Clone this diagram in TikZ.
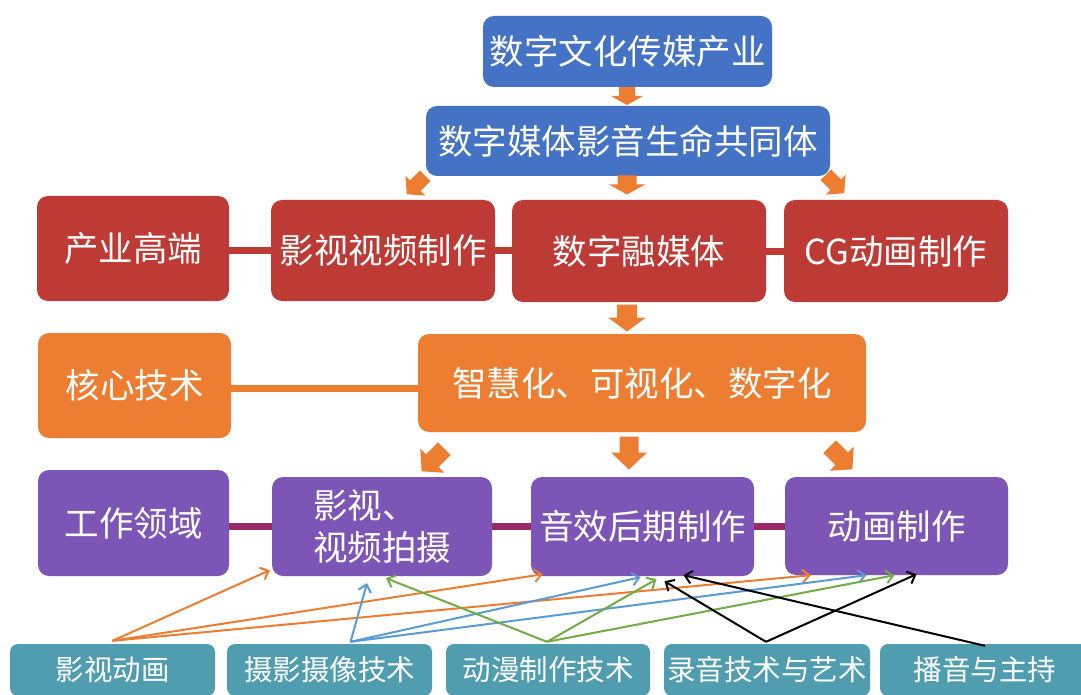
\documentclass[tikz,border=0pt]{standalone}
\usepackage{fontspec}
\setmainfont{Noto Sans CJK SC}
\usetikzlibrary{arrows.meta,calc}
\definecolor{cblue}{HTML}{4472C4}
\definecolor{cred}{HTML}{BE3A35}
\definecolor{corange}{HTML}{ED7D31}
\definecolor{cpurple}{HTML}{7D55B7}
\definecolor{cteal}{HTML}{4F9DAF}
\definecolor{cmagenta}{HTML}{9A2A66}
\definecolor{lblue}{HTML}{5B9BD5}
\definecolor{lgreen}{HTML}{70AD47}
% block arrow: #1 x, #2 y, #3 rotation, #4 total length, #5 shaft half width, #6 head half width, #7 head length
\newcommand{\myblkarrow}[7]{%
  \fill[corange, shift={(#1,#2)}, rotate=#3]
    (-#5,{-#4/2}) -- (#5,{-#4/2}) -- (#5,{#4/2-#7}) -- (#6,{#4/2-#7})
    -- (0,{#4/2}) -- (-#6,{#4/2-#7}) -- (-#5,{#4/2-#7}) -- cycle;}
\begin{document}
\begin{tikzpicture}[x=1pt,y=-1pt,
  box/.style={rounded corners=11pt, text=white, inner sep=0pt, align=center,
    font=\fontsize{34.5}{42}\selectfont},
  smallbox/.style={box, rounded corners=8pt, font=\fontsize{28.5}{32}\selectfont},
  rowline/.style={line width=7pt},
  tip/.style={line width=2pt, -{Straight Barb[length=7pt,width=13pt]}},
]
\useasboundingbox (0,0) rectangle (1081,695);
\fill[white] (0,0) rectangle (1081,695);

% top
\node[box, fill=cblue, minimum width=289pt, minimum height=71pt] (top1) at (627.5,51.5) {数字文化传媒产业};
\node[box, fill=cblue, minimum width=404pt, minimum height=70pt] (top2) at (628,141) {数字媒体影音生命共同体};

% red row
\node[box, fill=cred, minimum width=192pt, minimum height=105pt] (cat1) at (133,248.5) {产业高端};
\node[box, fill=cred, minimum width=224pt, minimum height=101pt] (r1) at (383,250.5) {影视视频制作};
\node[box, fill=cred, minimum width=254pt, minimum height=102pt] (r2) at (639,251) {数字融媒体};
\node[box, fill=cred, minimum width=224pt, minimum height=102pt] (r3) at (896,251) {CG动画制作};

% orange row
\node[box, fill=corange, minimum width=193pt, minimum height=105pt] (cat2) at (134.5,385.5) {核心技术};
\node[box, fill=corange, minimum width=448pt, minimum height=98pt] (o1) at (642,383) {智慧化、可视化、数字化};

% purple row
\node[box, fill=cpurple, minimum width=191pt, minimum height=106pt] (cat3) at (133.5,523) {工作领域};
\node[box, fill=cpurple, minimum width=220pt, minimum height=99pt, align=left] (p1) at (382,526.5) {影视、\\视频拍摄};
\node[box, fill=cpurple, minimum width=223pt, minimum height=99pt] (p2) at (642.5,526.5) {音效后期制作};
\node[box, fill=cpurple, minimum width=223pt, minimum height=98pt] (p3) at (896.5,526) {动画制作};

% teal row
\node[smallbox, fill=cteal, minimum width=205pt, minimum height=52pt] (t1) at (112.5,670) {影视动画};
\node[smallbox, fill=cteal, minimum width=205pt, minimum height=52pt] (t2) at (329.5,670) {摄影摄像技术};
\node[smallbox, fill=cteal, minimum width=204pt, minimum height=52pt] (t3) at (548,670) {动漫制作技术};
\node[smallbox, fill=cteal, minimum width=206pt, minimum height=52pt] (t4) at (767,670) {录音技术与艺术};
\node[smallbox, fill=cteal, minimum width=210pt, minimum height=52pt] (t5) at (985,670) {播音与主持};

% row connectors
\draw[rowline, cred] (cat1.east |- r1.center) -- (r1.west);
\draw[rowline, cred] (r1.east) -- (r2.west |- r1.east);
\draw[rowline, cred] (r2.east) -- (r3.west |- r2.east);
\draw[rowline, corange] (cat2.east |- 0,388) -- (o1.west |- 0,388);
\draw[rowline, cmagenta] (cat3.east |- p1.center) -- (p1.west);
\draw[rowline, cmagenta] (p1.east) -- (p2.west |- p1.east);
\draw[rowline, cmagenta] (p2.east) -- (p3.west |- p2.east);

% block arrows
\myblkarrow{627}{96}{0}{18}{8}{16}{9}
\myblkarrow{627}{185}{0}{19}{9.5}{18}{10}
\myblkarrow{416}{185}{-45}{26}{7.5}{14}{12}
\myblkarrow{835}{184}{45}{26}{7.5}{14}{12}
\myblkarrow{627}{318}{0}{27}{10}{19}{14}
\myblkarrow{433}{460}{-45}{32}{9}{17}{15}
\myblkarrow{629}{453}{0}{33}{9.5}{18}{17}
\myblkarrow{841}{458}{45}{32}{9}{17}{15}

% bottom arrows
\draw[tip, corange] ($(t1.north)+(0,-3)$) -- ($(p1.south west)+(-2,-6)$);
\draw[tip, corange] ($(t1.north)+(0,-3)$) -- ($(p2.south west)+(12,-2)$);
\draw[tip, corange] ($(t1.north)+(0,-3)$) -- ($(p3.south west)+(26,0)$);
\draw[tip, lblue] ($(t2.north)+(21,-2)$) -- ($(p1.south)+(-15,7)$);
\draw[tip, lblue] ($(t2.north)+(21,-2)$) -- ($(p2.south)+(-2,1)$);
\draw[tip, lblue] ($(t2.north)+(21,-2)$) -- ($(p3.south)+(-30,0)$);
\draw[tip, lgreen] ($(t3.north)+(-1,-2)$) -- ($(p1.south)+(4,2)$);
\draw[tip, lgreen] ($(t3.north)+(-1,-2)$) -- ($(p2.south)+(14,3)$);
\draw[tip, lgreen] ($(t3.north)+(-1,-2)$) -- ($(p3.south)+(-2,0)$);
\draw[tip, black] ($(t4.north)+(-1,-2)$) -- ($(p2.south)+(22,5)$);
\draw[tip, black] ($(t4.north)+(-1,-2)$) -- ($(p3.south)+(20,-1)$);
\draw[tip, black] ($(t5.north)+(0,2)$) -- ($(p2.south)+(41,-1)$);
\end{tikzpicture}
\end{document}
